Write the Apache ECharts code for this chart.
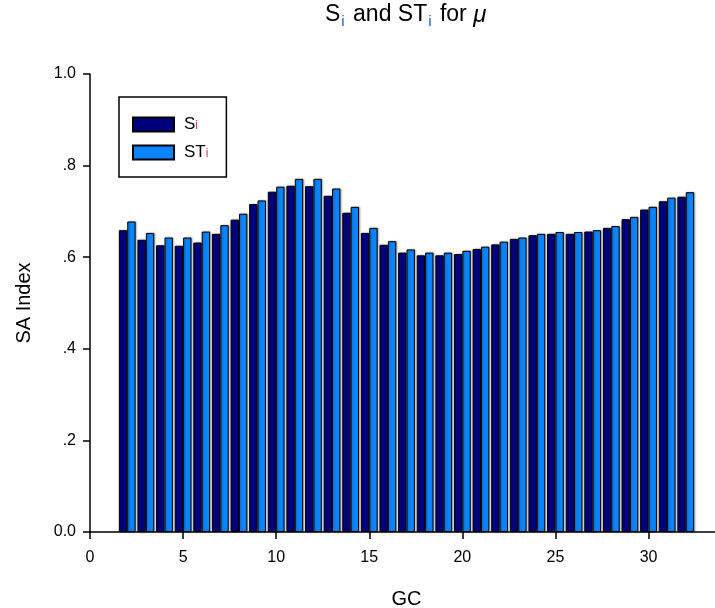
<!DOCTYPE html>
<html>
<head>
<meta charset="utf-8">
<script src="https://cdn.jsdelivr.net/npm/echarts@6/dist/echarts.min.js"></script>
<style>
  html, body { margin: 0; padding: 0; background: #fff; }
  #chart { width: 715px; height: 608px; }
</style>
</head>
<body>
<div id="chart"></div>
<script>
// Sensitivity indices per GC
const gc = [2, 3, 4, 5, 6, 7, 8, 9, 10, 11, 12, 13, 14, 15, 16, 17, 18, 19, 20, 21, 22, 23, 24, 25, 26, 27, 28, 29, 30, 31, 32];
const si = [0.659, 0.638, 0.626, 0.625, 0.632, 0.651, 0.682, 0.716, 0.743, 0.756, 0.755, 0.734, 0.697, 0.653, 0.627, 0.610,
            0.604, 0.604, 0.607, 0.618, 0.628, 0.640, 0.648, 0.651, 0.651, 0.656, 0.664, 0.683, 0.704, 0.722, 0.732];
const sti = [0.678, 0.653, 0.643, 0.643, 0.656, 0.670, 0.695, 0.724, 0.754, 0.771, 0.771, 0.750, 0.710, 0.664, 0.635, 0.617,
             0.610, 0.610, 0.614, 0.623, 0.634, 0.643, 0.651, 0.655, 0.655, 0.659, 0.668, 0.688, 0.710, 0.730, 0.742];
const yTickLabels = { 0: '0.0', 0.2: '.2', 0.4: '.4', 0.6: '.6', 0.8: '.8', 1: '1.0' };

const FONT = 'Arial, "Liberation Sans", sans-serif';
const chart = echarts.init(document.getElementById('chart'), null, { renderer: 'canvas' });

const barStyle = (color) => ({
  color: color,
  borderColor: '#000',
  borderWidth: 1,
  shadowColor: 'rgba(0,0,0,0.3)',
  shadowBlur: 2,
  shadowOffsetX: 1
});

chart.setOption({
  animation: false,
  backgroundColor: '#fff',
  title: {
    text: '{a|S}{s|i}{a| and ST}{s|i}{a| for }{m|μ}',
    left: 325,
    top: 1,
    padding: 0,
    textStyle: {
      rich: {
        a: { fontFamily: FONT, fontSize: 23, fontWeight: 'normal', color: '#000', lineHeight: 28 },
        s: { fontFamily: FONT, fontSize: 15, fontWeight: 'normal', color: '#1f5fc4', lineHeight: 12,
             verticalAlign: 'bottom', padding: [0, 2, 0, 1] },
        m: { fontFamily: FONT, fontSize: 24, fontWeight: 'normal', fontStyle: 'italic', color: '#000', lineHeight: 28 }
      }
    }
  },
  legend: {
    orient: 'vertical',
    left: 119,
    top: 97,
    padding: [19, 18, 16, 13],
    borderColor: '#000',
    borderWidth: 1.5,
    itemWidth: 41,
    itemHeight: 14,
    itemGap: 11,
    icon: 'rect',
    data: ['Si', 'STi'],
    formatter: (name) => name === 'Si' ? '{b|S}{s|i}' : '{b|ST}{s|i}',
    textStyle: {
      rich: {
        b: { fontFamily: FONT, fontSize: 17, color: '#000', lineHeight: 14, padding: [0, 0, 0, 5] },
        s: { fontFamily: FONT, fontSize: 12, color: '#c03a6e', lineHeight: 6, verticalAlign: 'bottom' }
      }
    }
  },
  grid: { left: 90, top: 74, width: 633, bottom: 76, containLabel: false, outerBoundsMode: 'none' },
  xAxis: {
    type: 'value',
    min: 0,
    max: 34,
    interval: 5,
    name: 'GC',
    nameLocation: 'middle',
    nameGap: 57,
    nameTextStyle: { fontFamily: FONT, fontSize: 20, color: '#000' },
    splitLine: { show: false },
    axisLine: { lineStyle: { color: '#000', width: 1.5 } },
    axisTick: { length: 7, lineStyle: { color: '#000', width: 1.5 } },
    axisLabel: {
      margin: 18,
      fontFamily: FONT, fontSize: 16, color: '#000',
      formatter: (v) => (v % 5 === 0 ? String(v) : '')
    }
  },
  yAxis: {
    type: 'value',
    min: 0,
    max: 1,
    interval: 0.2,
    name: 'SA Index',
    nameLocation: 'middle',
    nameGap: 56,
    nameTextStyle: { fontFamily: FONT, fontSize: 20, color: '#000' },
    splitLine: { show: false },
    axisLine: { show: true, lineStyle: { color: '#000', width: 1.5 } },
    axisTick: { show: true, length: 7, lineStyle: { color: '#000', width: 1.5 } },
    axisLabel: {
      margin: 14,
      fontFamily: FONT, fontSize: 16, color: '#000',
      formatter: (v) => yTickLabels[Math.round(v * 10) / 10] ?? ''
    }
  },
  series: [
    {
      name: 'Si',
      type: 'bar',
      barWidth: 8.4,
      barGap: '0%',
      itemStyle: barStyle('#00007f'),
      data: gc.map((g, i) => [g, si[i]])
    },
    {
      name: 'STi',
      type: 'bar',
      barWidth: 8.4,
      barGap: '0%',
      itemStyle: barStyle('#0a84ff'),
      data: gc.map((g, i) => [g, sti[i]])
    }
  ]
});
</script>
</body>
</html>
